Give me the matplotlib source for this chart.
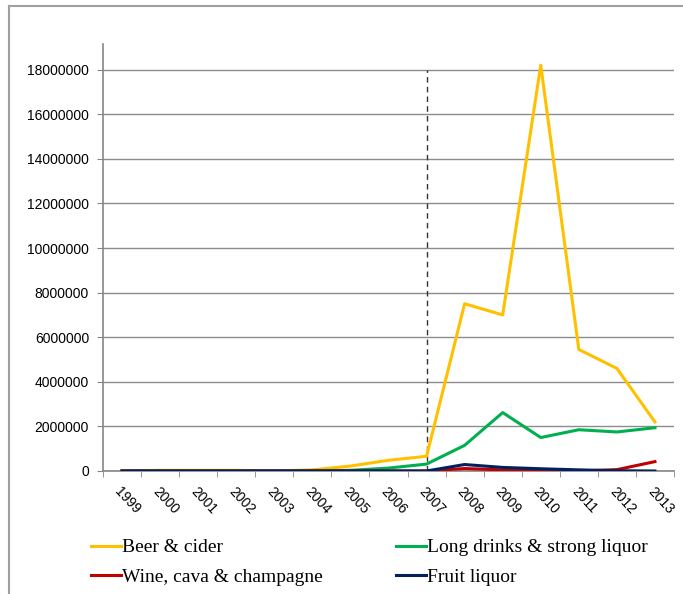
import numpy as np
import matplotlib
matplotlib.use("Agg")
import matplotlib.pyplot as plt
from matplotlib.lines import Line2D

YEARS = [str(y) for y in range(1999, 2014)]
BEER = [0, 30000, 30000, 30000, 0, 50000, 220000, 480000, 660000,
        7500000, 7000000, 18200000, 5450000, 4600000, 2200000]
LONG = [0, 0, 0, 0, 0, 10000, 30000, 130000, 310000,
        1150000, 2620000, 1500000, 1850000, 1750000, 1940000]
WINE = [0, 0, 0, 0, 0, 0, 0, 0, 0,
        110000, 50000, 30000, 0, 60000, 420000]
FRUIT = [0, 0, 0, 0, 0, 0, 0, 0, 0,
         290000, 160000, 100000, 50000, 10000, 0]
SERIES = [("Beer & cider", BEER, "#FFC000"),
          ("Wine, cava & champagne", WINE, "#C00000"),
          ("Long drinks & strong liquor", LONG, "#00B050"),
          ("Fruit liquor", FRUIT, "#002060")]
MARK_YEAR = "2007"

fig = plt.figure(figsize=(6.83, 5.94), dpi=100)
ax = fig.add_axes([0.1508, 0.2071, 0.8360, 0.7188])
x = np.arange(len(YEARS))

ax.vlines(YEARS.index(MARK_YEAR), 0, 18000000, colors="#333333",
          linestyles=(0, (4, 3)), linewidth=1.0, zorder=2)
for name, vals, col in [SERIES[0], SERIES[2], SERIES[1], SERIES[3]]:
    ax.plot(x, vals, color=col, lw=2.2, label=name, zorder=3)
handles = {l.get_label(): l for l in ax.get_lines()}

ax.set_xlim(-0.5, len(YEARS) - 0.5)
ax.set_ylim(0, 19150000)
yt = np.arange(0, 18000001, 2000000)
ax.set_yticks(yt)
ax.set_yticklabels([str(v) for v in yt], fontsize=10, family="Liberation Sans")
ax.set_xticks(x)
ax.set_xticklabels(YEARS, rotation=-47, ha="left", va="top",
                   rotation_mode="anchor", fontsize=10, family="Liberation Sans")
ax.set_xticks(np.arange(-0.5, len(YEARS)), minor=True)
ax.tick_params(axis="x", which="major", length=0, pad=10)
ax.tick_params(axis="x", which="minor", length=4, color="#868686", direction="out")
ax.tick_params(axis="y", length=4, color="#868686", direction="out", pad=6)
ax.grid(axis="y", color="#8c8c8c", lw=1.0)
ax.set_axisbelow(True)
for s in ["top", "right"]:
    ax.spines[s].set_visible(False)
for s in ["left", "bottom"]:
    ax.spines[s].set_color("#868686")
    ax.spines[s].set_linewidth(1.2)

order = [s[0] for s in SERIES]
fig.legend([handles[n] for n in order], order, loc="upper left",
           bbox_to_anchor=(0.133, 0.093), ncol=2, frameon=False,
           prop={"family": "Liberation Serif", "size": 14},
           handlelength=1.55, handletextpad=0.05, columnspacing=3.75,
           labelspacing=0.6, borderpad=0, borderaxespad=0)

fig.add_artist(Line2D([0.0132, 0.0132], [0, 0.990], color="#a0a0a0", lw=1.5))
fig.add_artist(Line2D([0.0132, 1.0], [0.990, 0.990], color="#a0a0a0", lw=1.5))

fig.savefig("out.png", dpi=100)
